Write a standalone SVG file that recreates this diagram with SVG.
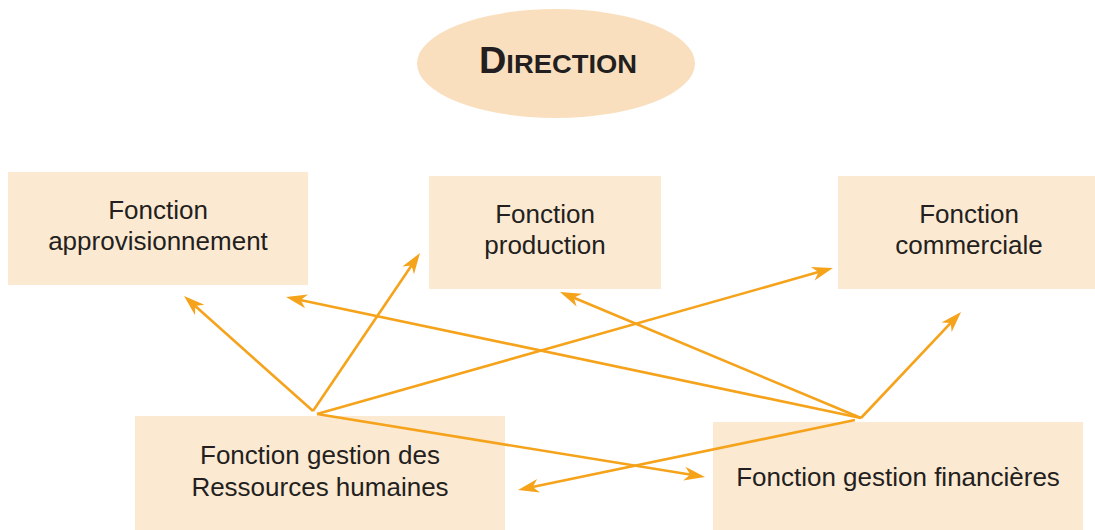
<svg xmlns="http://www.w3.org/2000/svg" width="1095" height="530" viewBox="0 0 1095 530">
<style>
.box{fill:#FCE9D2;}
.lbl{font-family:"Liberation Sans",Arial,Helvetica,sans-serif;font-size:26px;fill:#231F20;text-anchor:middle;}
.arr{stroke:#F6A31C;stroke-width:2.6;fill:none;marker-end:url(#ah);}
</style>
<defs>
<marker id="ah" markerUnits="userSpaceOnUse" orient="auto" refX="-6" refY="0" markerWidth="30" markerHeight="20" viewBox="-25 -10 30 20" overflow="visible">
<path d="M0,0 L-21,-7 L-15,0 L-21,7 Z" fill="#F6A31C"/>
</marker>
</defs>
<rect width="1095" height="530" fill="#FFFFFF"/>
<g id="direction">
<ellipse cx="556" cy="63.5" rx="139" ry="54.5" fill="#FADFBE"/>
<text x="479" y="73" textLength="158" lengthAdjust="spacingAndGlyphs" style="font-family:'Liberation Sans',Arial,sans-serif;font-weight:bold;fill:#231F20;font-size:36px">D<tspan style="font-size:26px">IRECTION</tspan></text>
</g>
<g id="approvisionnement">
<rect class="box" x="8" y="172" width="300" height="113"/>
<text class="lbl" x="158" y="219">Fonction</text>
<text class="lbl" x="158" y="250">approvisionnement</text>
</g>
<g id="production">
<rect class="box" x="429" y="176" width="232" height="113"/>
<text class="lbl" x="545" y="223">Fonction</text>
<text class="lbl" x="545" y="254">production</text>
</g>
<g id="commerciale">
<rect class="box" x="838" y="176" width="257" height="113"/>
<text class="lbl" x="969" y="223">Fonction</text>
<text class="lbl" x="969" y="254">commerciale</text>
</g>
<g id="rh">
<rect class="box" x="135" y="416" width="370" height="114"/>
<text class="lbl" x="320" y="464">Fonction gestion des</text>
<text class="lbl" x="320" y="496">Ressources humaines</text>
</g>
<g id="financieres">
<rect class="box" x="713" y="422" width="370" height="108"/>
<text class="lbl" x="898" y="486">Fonction gestion financières</text>
</g>
<g id="connectors">
<line class="arr" x1="313" y1="411" x2="188.5" y2="300"/>
<line class="arr" x1="313" y1="411" x2="416.6" y2="258"/>
<line class="arr" x1="317" y1="414" x2="827.2" y2="269.6"/>
<line class="arr" x1="317" y1="414" x2="699.1" y2="476"/>
<line class="arr" x1="861" y1="418" x2="291.9" y2="298.2"/>
<line class="arr" x1="861" y1="418" x2="565.5" y2="294.3"/>
<line class="arr" x1="861" y1="418" x2="956.9" y2="316.4"/>
<line class="arr" x1="855" y1="420" x2="523.9" y2="488.8"/>
</g>
</svg>
